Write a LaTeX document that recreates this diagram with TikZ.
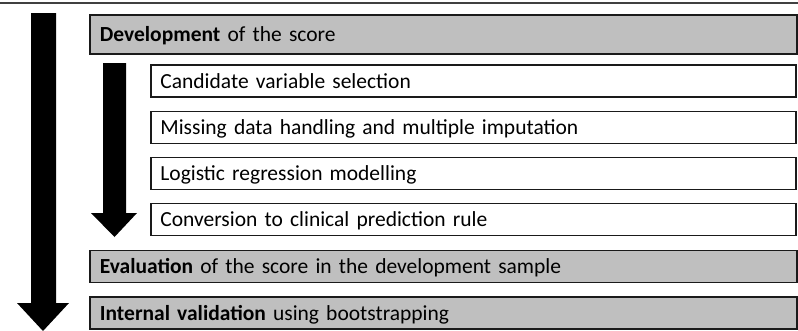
\documentclass[tikz,border=0pt]{standalone}
\usepackage{fontspec}
\setmainfont{Carlito}
\definecolor{boxgray}{HTML}{BFBFBF}
\definecolor{edge}{HTML}{1A1A1A}
\begin{document}
\begin{tikzpicture}[x=1pt,y=-1pt,
  box/.style={draw=edge, line width=1.8pt, anchor=north west, inner ysep=0pt,
    text height=18pt, text depth=3pt, font=\fontsize{21.5}{25}\selectfont, align=left},
  graybox/.style={box, fill=boxgray, inner xsep=10pt, minimum width=707pt, text width=687pt},
  whitebox/.style={box, fill=white, inner xsep=9.5pt, minimum width=645pt, text width=626pt},
  bigarrow/.style={fill=black, draw=none}]
\useasboundingbox (0,0) rectangle (798,330);
\draw[draw=black!75, line width=1.3pt] (0,3) -- (798,3);
% arrows
\fill[bigarrow] (31,13) -- (56,13) -- (56,303) -- (69,303) -- (43,331) -- (17,303) -- (31,303) -- cycle;
\fill[bigarrow] (103,63) -- (126,63) -- (126,213) -- (137,213) -- (114.5,237) -- (91,213) -- (103,213) -- cycle;
% boxes
\node[graybox, minimum height=39pt] (dev) at (89,14) {\textbf{Development} of the score};
\node[whitebox, minimum height=32pt] (cand) at (150,64) {Candidate variable selection};
\node[whitebox, minimum height=32pt] (miss) at (150,110.5) {Missing data handling and multiple imputation};
\node[whitebox, minimum height=32pt] (logi) at (150,156.5) {Logistic regression modelling};
\node[whitebox, minimum height=32pt] (conv) at (150,202.5) {Conversion to clinical prediction rule};
\node[graybox, minimum height=32pt] (eval) at (89,249.5) {\textbf{Evaluation} of the score in the development sample};
\node[graybox, minimum height=32pt] (intv) at (89,296) {\textbf{Internal validation} using bootstrapping};
\end{tikzpicture}
\end{document}
